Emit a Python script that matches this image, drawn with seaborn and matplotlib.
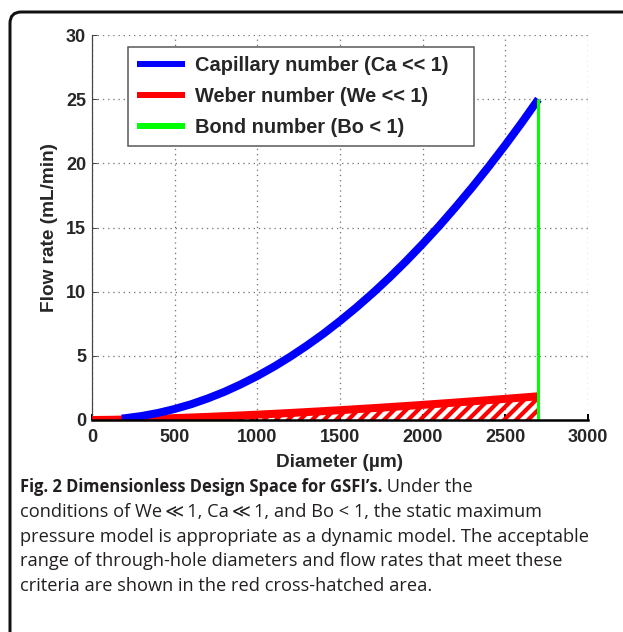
import numpy as np
import pandas as pd
import matplotlib
matplotlib.use("Agg")
import matplotlib.pyplot as plt
import seaborn as sns
from matplotlib.patches import FancyBboxPatch

# ---------------- data ----------------
cap_diam = [180, 200, 300, 400, 500, 600, 700, 800, 900, 1000, 1100, 1200, 1300,
            1400, 1500, 1600, 1700, 1800, 1900, 2000, 2100, 2200, 2300, 2400,
            2500, 2600, 2700]
cap_flow = [0.11, 0.14, 0.31, 0.55, 0.86, 1.23, 1.68, 2.19, 2.78, 3.43, 4.15, 4.94,
            5.80, 6.72, 7.72, 8.78, 9.91, 11.11, 12.38, 13.72, 15.12, 16.60, 18.14,
            19.75, 21.43, 23.18, 25.00]

web_diam = [0, 100, 200, 300, 400, 500, 600, 700, 800, 900, 1000, 1100, 1200, 1300,
            1400, 1500, 1600, 1700, 1800, 1900, 2000, 2100, 2200, 2300, 2400,
            2500, 2600, 2700]
web_flow = [0.0, 0.013, 0.037, 0.068, 0.105, 0.147, 0.194, 0.244, 0.298, 0.356,
            0.417, 0.481, 0.548, 0.618, 0.691, 0.766, 0.844, 0.924, 1.007, 1.092,
            1.179, 1.269, 1.361, 1.455, 1.550, 1.648, 1.748, 1.85]

bond_diam = 2700
bond_flow = [0, 25]

x_ticks = [0, 500, 1000, 1500, 2000, 2500, 3000]
y_ticks = [0, 5, 10, 15, 20, 25, 30]

labels = ["Capillary number (Ca << 1)", "Weber number (We << 1)", "Bond number (Bo < 1)"]
x_label = "Diameter (\u00b5m)"
y_label = "Flow rate (mL/min)"

caption_bold = "Fig. 2 Dimensionless Design Space for GSFI\u2019s."
caption_lines = [
    " Under the",
    "conditions of We\u2009\u226a\u20091, Ca\u2009\u226a\u20091, and Bo < 1, the static maximum",
    "pressure model is appropriate as a dynamic model. The acceptable",
    "range of through-hole diameters and flow rates that meet these",
    "criteria are shown in the red cross-hatched area.",
]

cap_df = pd.DataFrame({"d": cap_diam, "q": cap_flow})
web_df = pd.DataFrame({"d": web_diam, "q": web_flow})

# ---------------- style ----------------
sns.set_theme(style="ticks")
plt.rcParams["font.family"] = ["Liberation Sans", "DejaVu Sans"]
plt.rcParams["hatch.linewidth"] = 4.2
plt.rcParams["hatch.color"] = "#ff0000"

W, H = 623, 632
DPI = 72
fig = plt.figure(figsize=(W / DPI, H / DPI), dpi=DPI)

def px(x, y):
    return x / W, (H - y) / H

# card border
card = FancyBboxPatch(px(10, 700), (700) / W, (700 - 12) / H,
                      boxstyle="round,pad=0,rounding_size=0.018",
                      transform=fig.transFigure, fill=False,
                      edgecolor="#111111", linewidth=3, zorder=0)
fig.patches.append(card)

ax_l, ax_r, ax_t, ax_b = 92, 588, 35, 420
ax = fig.add_axes([ax_l / W, (H - ax_b) / H, (ax_r - ax_l) / W, (ax_b - ax_t) / H])

# hatched acceptable region
ax.fill_between(web_df["d"], 0, web_df["q"], facecolor="none", hatch="//",
                edgecolor="#ff0000", linewidth=0, zorder=2)
sns.lineplot(data=web_df, x="d", y="q", ax=ax, color="#ff0000", linewidth=8,
             label=labels[1], zorder=3, solid_capstyle="butt")
sns.lineplot(data=cap_df, x="d", y="q", ax=ax, color="#0000ff", linewidth=8,
             label=labels[0], zorder=4, solid_capstyle="butt")
ax.vlines(bond_diam, bond_flow[0], bond_flow[1], color="#00ff00", linewidth=3,
          zorder=5, label=labels[2])

ax.set_xlim(0, 3000)
ax.set_ylim(0, 30)
ax.set_xticks(x_ticks)
ax.set_yticks(y_ticks)
ax.set_xticklabels([str(v) for v in x_ticks], fontsize=18, fontweight="bold")
ax.set_yticklabels([str(v) for v in y_ticks], fontsize=18, fontweight="bold")
ax.set_xlabel(x_label, fontsize=19, fontweight="bold", labelpad=8)
ax.set_ylabel(y_label, fontsize=19, fontweight="bold", labelpad=8)

ax.grid(True, linestyle=(0, (1, 3)), color="#777777", linewidth=1.3)
ax.set_axisbelow(True)
for s in ["top", "right"]:
    ax.spines[s].set_visible(False)
ax.spines["bottom"].set_color("black")
ax.spines["bottom"].set_linewidth(2.5)
ax.spines["bottom"].set_zorder(6)
ax.spines["left"].set_color("#444444")
ax.spines["left"].set_linewidth(1.2)
ax.tick_params(axis="x", direction="in", length=6, width=2, color="black", pad=9)
ax.tick_params(axis="y", direction="in", length=5, width=1, color="#444444", pad=6)

# legend
handles, labs = ax.get_legend_handles_labels()
order = [labs.index(l) for l in labels]
leg = ax.legend([handles[i] for i in order], [labs[i] + "   " for i in order],
                loc="upper left", bbox_to_anchor=(0.0716, 0.969),
                borderaxespad=0, frameon=True, fancybox=False,
                handlelength=2.4, handletextpad=0.5, labelspacing=0.6,
                borderpad=0.45, edgecolor="#555555", framealpha=1,
                prop={"weight": "bold", "size": 20})
leg.get_frame().set_linewidth(1.5)
for line in leg.get_lines():
    line.set_linewidth(6)
    line.set_solid_capstyle("butt")

# caption
cap_font = ["Open Sans", "DejaVu Sans"]
cap_color = "#231f20"
x0, y0 = px(20, 487)
t = fig.text(x0, y0, caption_bold, fontsize=16.5, fontweight="bold",
             family=cap_font, color=cap_color, va="center", ha="left")
fig.canvas.draw()
bb = t.get_window_extent(renderer=fig.canvas.get_renderer())
fig.text(bb.x1 / W, y0, caption_lines[0], fontsize=18.3, family=cap_font,
         color=cap_color, va="center", ha="left")
for i, line in enumerate(caption_lines[1:]):
    yy = 512 + 24.6 * i
    fig.text(x0, px(0, yy)[1], line, fontsize=18.3, family=cap_font,
             color=cap_color, va="center", ha="left")

fig.savefig("out.png", dpi=DPI)
